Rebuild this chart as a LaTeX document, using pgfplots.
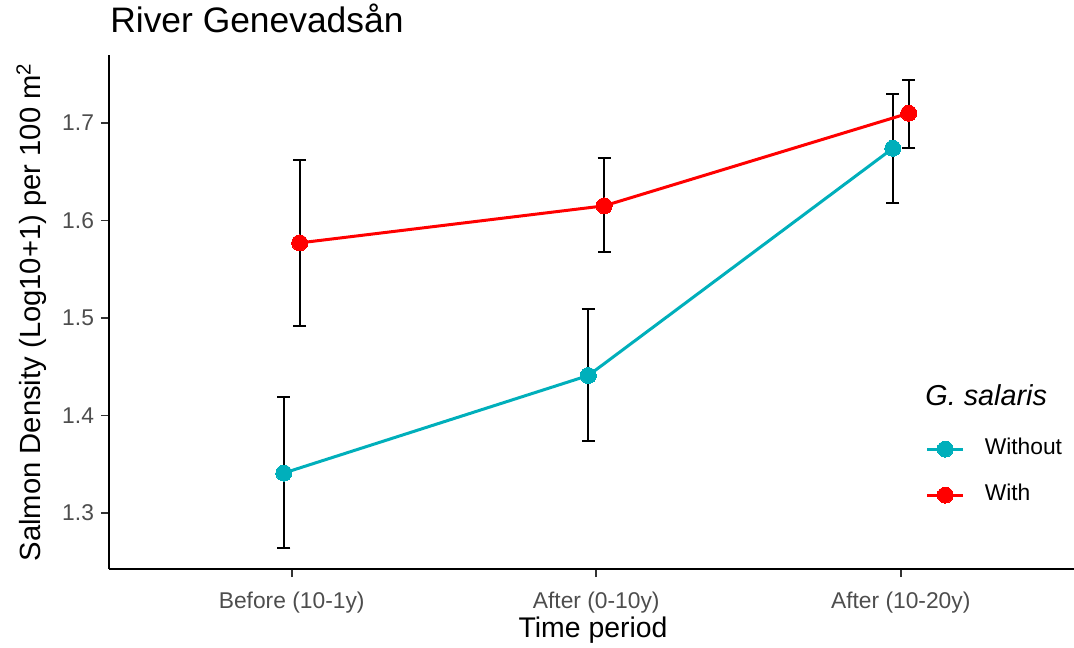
\documentclass[border=0pt]{standalone}
\usepackage{pgfplots}
\pgfplotsset{compat=1.18}
\usepackage{pgfplotstable}
\usepackage{fontspec}
\setmainfont{Liberation Sans}
\definecolor{cyanG}{HTML}{00AFBB}
\definecolor{redG}{HTML}{FF0000}
\definecolor{tickgray}{HTML}{4D4D4D}

\pgfplotstableread{
x y ep em
0.974 1.341 0.078 0.077
1.974 1.441 0.068 0.067
2.974 1.674 0.056 0.056
}\without
\pgfplotstableread{
x y ep em
1.026 1.577 0.085 0.085
2.026 1.615 0.049 0.047
3.026 1.710 0.034 0.036
}\with

\begin{document}
\begin{tikzpicture}
\begin{axis}[
  scale only axis, clip=false,
  width=482.5pt, height=257pt,
  xmin=0.4, xmax=3.569,
  ymin=1.2426, ymax=1.7697,
  axis x line*=bottom, axis y line*=left,
  axis line style={black, line width=0.8pt, -},
  xtick={1,2,3},
  xticklabels={Before (10-1y),After (0-10y),After (10-20y)},
  ytick={1.3,1.4,1.5,1.6,1.7},
  yticklabels={1.3,1.4,1.5,1.6,1.7},
  tick align=outside,
  major tick length=4pt,
  tick style={color=black!80, line width=0.8pt},
  x tick label style={font=\fontsize{11.4}{13}\selectfont, text=tickgray, yshift=-4pt},
  y tick label style={font=\fontsize{11.4}{13}\selectfont, text=tickgray},
  xlabel={Time period},
  ylabel={Salmon Density (Log10+1) per 100 m$^{\mathrm{2}}$},
  xlabel style={font=\fontsize{14.2}{16}\selectfont, at={(axis description cs:0.5016,-0.1323)}, anchor=base},
  ylabel style={font=\fontsize{14.6}{16}\selectfont, at={(axis description cs:-0.0705,0.5)}, anchor=base},
  legend cell align=left,
  legend image code/.code={\draw[#1, mark repeat=2, mark phase=2] plot coordinates {(0pt,0pt) (9pt,0pt) (18pt,0pt)};},
  legend style={draw=none, fill=none, at={(rel axis cs:0.846,0.2545)}, anchor=north west,
    font=\fontsize{11.4}{13}\selectfont, row sep=12.5pt, inner sep=0pt,
    nodes={inner sep=0pt, text height=8.2pt, text depth=2.3pt},
    /tikz/every odd column/.style={column sep=10pt}},
]
\addplot[draw=none, mark=none, forget plot,
  error bars/.cd, y dir=both, y explicit,
  error bar style={draw=black, line width=1pt},
  error mark=-,
  error mark options={draw=black, line width=1pt, mark size=3.3pt, rotate=90}]
  table[x=x, y=y, y error plus=ep, y error minus=em] {\without};
\addplot[draw=none, mark=none, forget plot,
  error bars/.cd, y dir=both, y explicit,
  error bar style={draw=black, line width=1pt},
  error mark=-,
  error mark options={draw=black, line width=1pt, mark size=3.3pt, rotate=90}]
  table[x=x, y=y, y error plus=ep, y error minus=em] {\with};
\addplot[cyanG, line width=1.5pt, mark=*, mark size=4pt, mark options={solid, fill=cyanG, draw=cyanG, line width=0pt}]
  table[x=x, y=y] {\without};
\addlegendentry{Without}
\addplot[redG, line width=1.5pt, mark=*, mark size=4pt, mark options={solid, fill=redG, draw=redG, line width=0pt}]
  table[x=x, y=y] {\with};
\addlegendentry{With}
\node[anchor=base west, inner sep=0pt, font=\fontsize{17.7}{20}\selectfont] at (rel axis cs:0.001,1.0428) {River Genevadsån};
\node[anchor=base west, inner sep=0pt, font=\fontsize{14.4}{16}\selectfont\itshape] at (rel axis cs:0.8456,0.319) {G. salaris};
\coordinate (O) at (rel axis cs:0,0);
\end{axis}
\pgfresetboundingbox
\path[use as bounding box] (O) ++(-54.5pt,-39pt) rectangle ++(537pt,323.5pt);
\end{tikzpicture}
\end{document}
